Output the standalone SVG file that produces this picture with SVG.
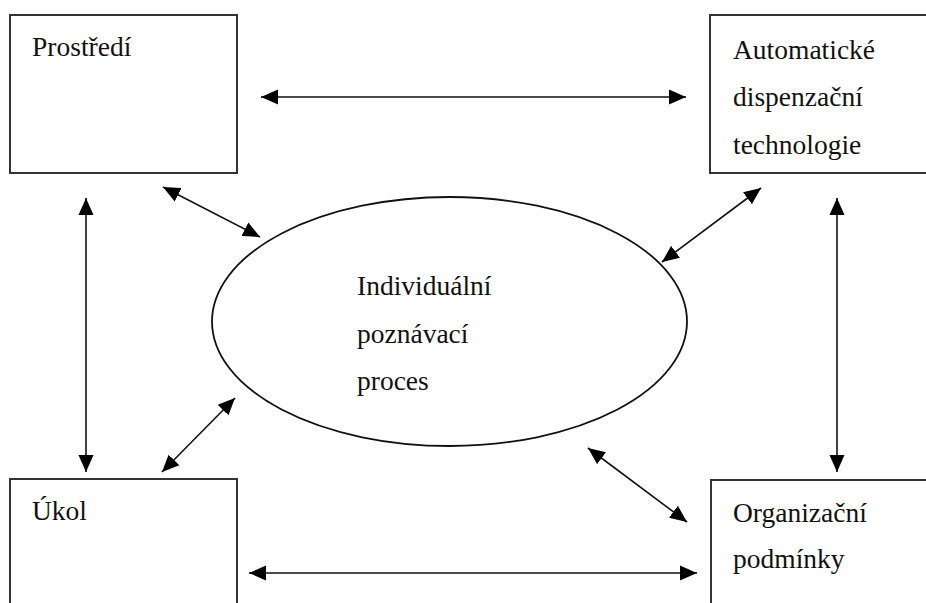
<svg xmlns="http://www.w3.org/2000/svg" width="926" height="603" viewBox="0 0 926 603">
<style>
.box{fill:#fff;stroke:#333;stroke-width:2}
.ell{fill:#fff;stroke:#111;stroke-width:1.8}
.t{font-family:"Liberation Serif","Times New Roman",serif;font-size:27.5px;fill:#111}
.c{stroke:#111;stroke-width:1.6;fill:none;marker-start:url(#ah);marker-end:url(#ah)}
</style>
<defs>
<marker id="ah" markerUnits="userSpaceOnUse" markerWidth="18" markerHeight="16" viewBox="0 0 18 16" refX="17" refY="8" orient="auto-start-reverse">
<path d="M0,0.5 L17,8 L0,15.5 z" fill="#000"/>
</marker>
</defs>
<rect width="926" height="603" fill="#fff"/>
<g id="prostredi">
<rect class="box" x="10" y="15" width="227" height="158"/>
<text class="t" x="32" y="56">Prostředí</text>
</g>
<g id="automaticke">
<rect class="box" x="710" y="15" width="230" height="158"/>
<text class="t" x="733" y="59">Automatické</text>
<text class="t" x="733" y="106">dispenzační</text>
<text class="t" x="733" y="154">technologie</text>
</g>
<g id="ukol">
<rect class="box" x="10" y="479" width="227" height="140"/>
<text class="t" x="32" y="520">Úkol</text>
</g>
<g id="organizacni">
<rect class="box" x="711" y="480" width="230" height="140"/>
<text class="t" x="733" y="522">Organizační</text>
<text class="t" x="733" y="568">podmínky</text>
</g>
<g id="individualni">
<ellipse class="ell" cx="449.5" cy="321.5" rx="237.5" ry="124.5"/>
<text class="t" x="357" y="295">Individuální</text>
<text class="t" x="357" y="343">poznávací</text>
<text class="t" x="357" y="390">proces</text>
</g>
<g id="connectors">
<line class="c" x1="261" y1="97" x2="686" y2="97"/>
<line class="c" x1="249" y1="573" x2="697" y2="573"/>
<line class="c" x1="86" y1="198" x2="86" y2="472"/>
<line class="c" x1="837" y1="198" x2="837" y2="472"/>
<line class="c" x1="163" y1="187" x2="260" y2="237"/>
<line class="c" x1="761" y1="188" x2="662" y2="262"/>
<line class="c" x1="235" y1="398" x2="162" y2="472"/>
<line class="c" x1="588" y1="448" x2="687" y2="522"/>
</g>
</svg>
